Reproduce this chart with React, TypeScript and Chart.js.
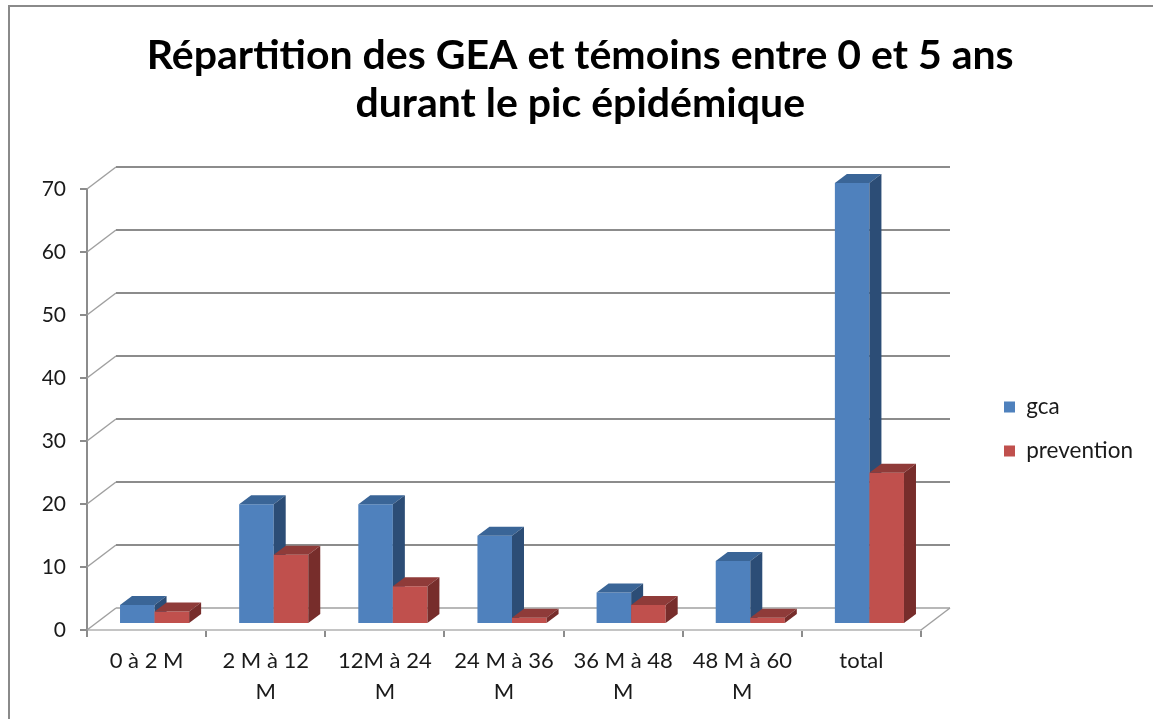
import React, { useEffect, useRef } from 'react';
import { Chart, registerables } from 'chart.js';

Chart.register(...registerables);

const TITLE_LINES = ['Répartition des GEA et témoins entre 0 et 5 ans', 'durant le pic épidémique'];
const CATEGORIES = [
  ['0 à 2 M'],
  ['2 M à 12', 'M'],
  ['12M à 24', 'M'],
  ['24 M à 36', 'M'],
  ['36 M à 48', 'M'],
  ['48 M à 60', 'M'],
  ['total'],
];
const SERIES_NAMES = ['gca', 'prevention'];
const GCA = [3, 19, 19, 14, 5, 10, 70];
const PREVENTION = [2, 11, 6, 1, 3, 1, 24];
const Y_TICKS = [0, 10, 20, 30, 40, 50, 60, 70];

const FRONT_COLORS = ['#4F81BD', '#C0504D'];
const TOP_COLORS = ['#3A6597', '#8F3B39'];
const SIDE_COLORS = ['#2C4D76', '#772D2B'];

const WALL_DX = 29;
const WALL_DY = -22;
const PLANE_DX = 8;
const PLANE_DY = -6;
const BAR_DX = 12;
const BAR_DY = -9;

const FONT = 'Lato, "Open Sans", sans-serif';

const threeDPlugin = {
  id: 'threeD',
  beforeDatasetsDraw(chart: any) {
    const ctx = chart.ctx as CanvasRenderingContext2D;
    const { left, right } = chart.chartArea;
    const yScale = chart.scales.y;
    ctx.save();
    Y_TICKS.forEach((v) => {
      const py = yScale.getPixelForValue(v);
      ctx.strokeStyle = '#a0a0a0';
      ctx.lineWidth = 1.5;
      ctx.beginPath();
      ctx.moveTo(left, py);
      ctx.lineTo(left + WALL_DX, py + WALL_DY);
      ctx.stroke();
      ctx.strokeStyle = v === 0 ? '#b8b8b8' : '#8c8c8c';
      ctx.lineWidth = 2;
      ctx.beginPath();
      ctx.moveTo(left + WALL_DX, py + WALL_DY);
      ctx.lineTo(right + WALL_DX, py + WALL_DY);
      ctx.stroke();
    });
    const p0 = yScale.getPixelForValue(0);
    ctx.strokeStyle = '#a0a0a0';
    ctx.lineWidth = 1.5;
    ctx.beginPath();
    ctx.moveTo(right, p0);
    ctx.lineTo(right + WALL_DX, p0 + WALL_DY);
    ctx.stroke();

    ctx.translate(PLANE_DX, PLANE_DY);
    chart.data.datasets.forEach((_ds: any, i: number) => {
      const meta = chart.getDatasetMeta(i);
      meta.data.forEach((el: any) => {
        el.draw(ctx, chart.chartArea);
        const { x, y, base, width } = el.getProps(['x', 'y', 'base', 'width'], true);
        const l = x - width / 2;
        const r = x + width / 2;
        ctx.fillStyle = TOP_COLORS[i];
        ctx.beginPath();
        ctx.moveTo(l, y);
        ctx.lineTo(l + BAR_DX, y + BAR_DY);
        ctx.lineTo(r + BAR_DX, y + BAR_DY);
        ctx.lineTo(r, y);
        ctx.closePath();
        ctx.fill();
        ctx.fillStyle = SIDE_COLORS[i];
        ctx.beginPath();
        ctx.moveTo(r, y);
        ctx.lineTo(r + BAR_DX, y + BAR_DY);
        ctx.lineTo(r + BAR_DX, base + BAR_DY);
        ctx.lineTo(r, base);
        ctx.closePath();
        ctx.fill();
      });
    });
    ctx.restore();
    return false;
  },
};

export default function App() {
  const canvasRef = useRef<HTMLCanvasElement | null>(null);

  useEffect(() => {
    document.body.style.margin = '0';
    const canvas = canvasRef.current;
    if (!canvas) return;
    const chart = new Chart(canvas, {
      type: 'bar',
      data: {
        labels: CATEGORIES,
        datasets: [
          { label: SERIES_NAMES[0], data: GCA, backgroundColor: FRONT_COLORS[0], borderWidth: 0 },
          { label: SERIES_NAMES[1], data: PREVENTION, backgroundColor: FRONT_COLORS[1], borderWidth: 0 },
        ],
      },
      options: {
        responsive: false,
        animation: false,
        layout: { padding: { left: 28, right: 20.5, top: 0, bottom: 0 } },
        datasets: { bar: { categoryPercentage: 0.58, barPercentage: 1 } },
        plugins: {
          title: {
            display: true,
            text: TITLE_LINES,
            color: '#000',
            font: { family: FONT, size: 41, weight: 'bold', lineHeight: 1.19 },
            padding: { top: 31, bottom: 60.4 },
          },
          legend: {
            position: 'right',
            fullSize: false,
            maxWidth: 150,
            title: { display: true, text: '', font: { size: 39, lineHeight: 1 }, padding: 0 },
            labels: {
              boxWidth: 11,
              boxHeight: 11,
              padding: 21.5,
              color: '#1a1a1a',
              font: { family: FONT, size: 22.5 },
            },
          },
          tooltip: { enabled: false },
        },
        scales: {
          x: {
            grid: { drawOnChartArea: false, drawTicks: true, tickLength: 7, color: '#8c8c8c', lineWidth: 2 },
            border: { color: '#c4c4c4', width: 2 },
            ticks: { color: '#1a1a1a', padding: 8.5, font: { family: FONT, size: 22, lineHeight: 1.41 }, maxRotation: 0 },
            afterFit(s: any) { s.height = 89; },
          },
          y: {
            min: 0,
            max: 70,
            ticks: { stepSize: 10, color: '#1a1a1a', padding: 14, font: { family: FONT, size: 21 } },
            grid: { drawOnChartArea: false, drawTicks: true, tickLength: 7, color: '#8c8c8c', lineWidth: 2 },
            border: { color: '#8c8c8c', width: 2 },
            afterFit(s: any) { s.width = 59; },
          },
          spacer: {
            type: 'linear',
            position: 'right',
            display: true,
            grid: { display: false, drawTicks: false },
            border: { display: false },
            ticks: { display: false },
            afterFit(s: any) { s.width = 61.5; },
          },
        },
      },
      plugins: [threeDPlugin],
    } as any);
    return () => chart.destroy();
  }, []);

  return (
    <div style={{ position: 'relative', width: 1153, height: 719, overflow: 'hidden', background: '#fff' }}>
      <div
        style={{
          position: 'absolute',
          left: 8,
          top: 5,
          width: 2000,
          height: 2000,
          borderLeft: '2px solid #8a8a8a',
          borderTop: '2px solid #8a8a8a',
        }}
      />
      <canvas ref={canvasRef} width={1153} height={719} style={{ position: 'absolute', left: 0, top: 0 }} />
    </div>
  );
}
